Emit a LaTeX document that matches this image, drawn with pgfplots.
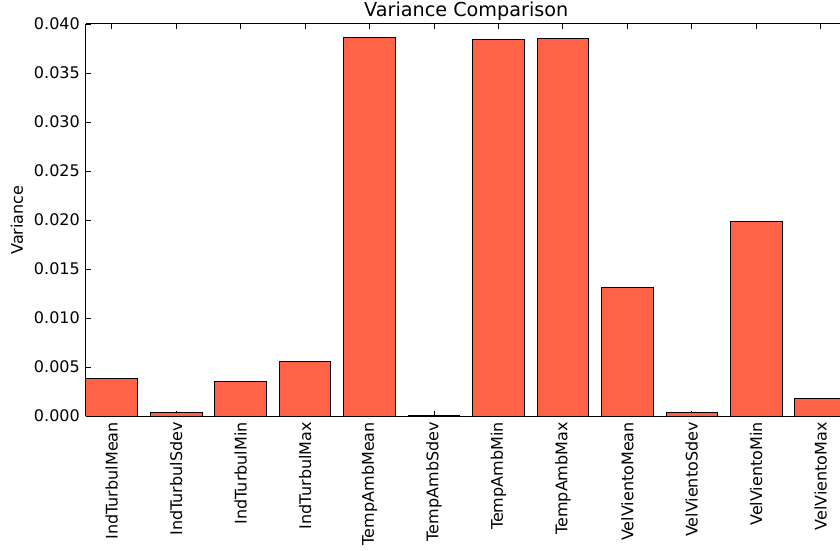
\documentclass[border=0pt]{standalone}
\usepackage{fontspec}
\setmainfont{DejaVu Sans}
\usepackage{pgfplots}
\pgfplotsset{compat=1.18}
\definecolor{tomato}{HTML}{FF6347}
\begin{document}
\fontsize{16bp}{19bp}\selectfont
\begin{tikzpicture}
\begin{axis}[name=a, scale only axis, width=754bp, height=392bp,
  xmin=0, xmax=11.70, ymin=0, ymax=0.04,
  axis x line*=box, axis y line*=left,
  axis line style={black, line width=1bp},
  tick align=inside, major tick length=5bp,
  tick style={black, line width=0.8bp},
  xtick={0.4,1.4,2.4,3.4,4.4,5.4,6.4,7.4,8.4,9.4,10.4,11.4},
  xticklabels={IndTurbulMean,IndTurbulSdev,IndTurbulMin,IndTurbulMax,TempAmbMean,TempAmbSdev,TempAmbMin,TempAmbMax,VelVientoMean,VelVientoSdev,VelVientoMin,VelVientoMax},
  xticklabel style={yshift=-6bp, rotate=90, anchor=east, inner sep=0pt},
  ytick={0,0.005,0.010,0.015,0.020,0.025,0.030,0.035,0.040},
  scaled y ticks=false,
  yticklabel style={/pgf/number format/.cd, fixed, fixed zerofill, precision=3, assume math mode=true, /tikz/.cd, inner sep=0pt, xshift=-6bp},
  ylabel={Variance},
  every axis y label/.style={at={(rel axis cs:-0.08355,0.5)}, rotate=90, anchor=base, inner sep=0pt},
  title={Variance Comparison},
  every axis title/.style={at={(rel axis cs:0.5043,1)}, anchor=base, yshift=7bp, inner sep=0pt, font=\fontsize{19.2bp}{23bp}\selectfont},
]
\addplot[ybar, bar width=0.8, bar shift=0pt, fill=tomato, draw=black, line width=1bp] coordinates {
(0.4,0.0038) (1.4,0.00038) (2.4,0.00357) (3.4,0.00554) (4.4,0.03864) (5.4,0.00004)
(6.4,0.03844) (7.4,0.03847) (8.4,0.01313) (9.4,0.00034) (10.4,0.01983) (11.4,0.00177)
};
\end{axis}
\pgfresetboundingbox
\path[use as bounding box] ([xshift=-86bp,yshift=-135bp]a.south west) rectangle ([yshift=24bp]a.north east);
\end{tikzpicture}
\end{document}
